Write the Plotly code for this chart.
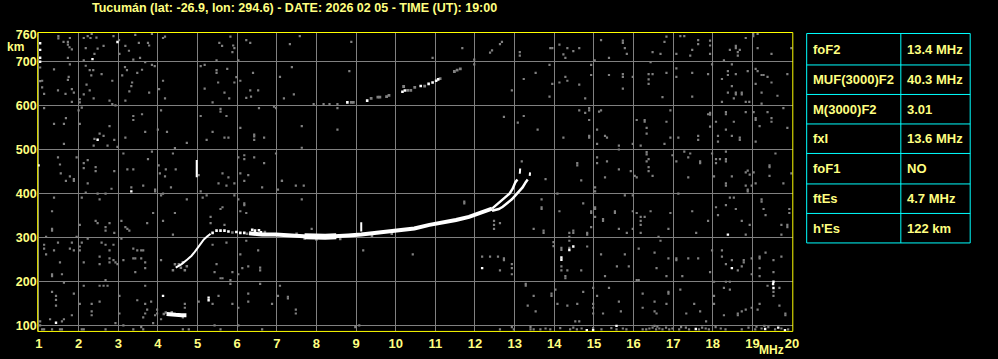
import plotly.graph_objects as go

# ---------------- data ----------------
TITLE = "Tucumán (lat: -26.9, lon: 294.6) - DATE: 2026 02 05 - TIME (UT): 19:00"
FREQ_TICKS = list(range(1, 21))
HEIGHT_TICKS = [100, 200, 300, 400, 500, 600, 700, 760]
HEIGHT_GRID = [100, 200, 300, 400, 500, 600, 700]

PARAM_NAMES = ["foF2", "MUF(3000)F2", "M(3000)F2", "fxI", "foF1", "ftEs", "h'Es"]
PARAM_VALUES = ["13.4 MHz", "40.3 MHz", "3.01", "13.6 MHz", "NO", "4.7 MHz", "122 km"]

# F2 trace (O and X merged), thick part: frequency MHz, virtual height km
F_FREQ = [6.30, 6.63, 6.97, 7.30, 7.63, 7.88, 8.22, 8.47, 8.80, 9.13, 9.47, 9.80, 10.13, 10.47, 10.85, 11.18, 11.52, 11.85, 12.18, 12.43]
F_HEIGHT = [310, 307, 307, 305, 304, 302, 302, 304, 305, 307, 310, 314, 317, 321, 329, 334, 340, 347, 357, 366]
F_CORE_FREQ = [7.70, 7.88, 8.22, 8.50]
F_CORE_HEIGHT = [303, 302, 302, 303]
RISE_FREQ = [4.45, 4.60, 4.75, 4.85, 4.93, 5.00, 5.08, 5.16, 5.25, 5.33]
RISE_HEIGHT = [232, 240, 251, 259, 268, 276, 287, 296, 303, 309]
O_FREQ = [12.43, 12.52, 12.60, 12.70, 12.78, 12.87, 12.95, 13.02, 13.07]
O_HEIGHT = [366, 373, 381, 388, 394, 400, 411, 426, 432]
O_TOP_FREQ = [13.13, 13.14]
O_TOP_HEIGHT = [445, 457]
X_FREQ = [12.43, 12.60, 12.70, 12.82, 12.93, 13.02, 13.10, 13.20, 13.28, 13.33]
X_HEIGHT = [361, 365, 370, 378, 387, 396, 403, 414, 426, 432]
X_TOP_FREQ = [13.38, 13.39]
X_TOP_HEIGHT = [440, 448]
ES_FREQ = [4.22, 4.30, 4.45, 4.60, 4.72]
ES_HEIGHT = [127, 127, 125, 124, 124]
STREAK1_FREQ = [4.98, 4.98]
STREAK1_HEIGHT = [437, 476]
STREAK2_FREQ = [9.13, 9.13]
STREAK2_HEIGHT = [314, 335]

F_DOTS = [(5.38, 311), (5.48, 316), (5.58, 316), (5.68, 316), (5.78, 314), (5.98, 313), (6.08, 311),
          (6.18, 311), (6.38, 318), (6.45, 316), (6.55, 317), (6.60, 312)]
F_FUZZ = [(4.38, 226), (4.43, 240), (4.53, 240), (4.63, 244), (4.68, 226), (4.73, 235), (4.58, 232),
          (5.88, 312), (6.25, 309), (6.70, 313), (7.50, 309), (7.70, 298), (8.00, 296), (8.60, 297),
          (9.40, 303), (9.90, 309), (4.15, 127), (4.35, 131), (4.20, 130)]
F2_ECHO_WHITE = [(8.78, 607), (9.28, 611), (10.17, 631), (10.23, 634), (10.63, 644), (10.83, 649),
                 (10.93, 652), (11.02, 656), (11.07, 659)]
F2_ECHO_GRAY = [(8.88, 607), (8.93, 607), (9.38, 616), (9.55, 619), (9.60, 619), (9.77, 620), (9.83, 623),
                (10.20, 643), (10.30, 634), (10.38, 634), (10.48, 641), (10.73, 644), (11.12, 661),
                (11.48, 677), (11.55, 680), (11.63, 683)]

WHITE_DOTS = [(1.03, 741), (1.03, 726), (1.03, 708), (1.03, 699), (0.99, 464), (2.98, 744), (2.35, 705),
              (2.48, 522), (3.33, 405), (4.13, 168), (5.28, 164), (5.28, 158), (1.43, 107), (14.18, 255),
              (14.18, 250), (14.38, 272), (14.48, 280), (12.18, 231), (18.38, 307), (18.48, 231),
              (19.53, 200), (19.53, 186), (19.52, 195), (14.82, 90), (14.98, 90), (15.57, 100),
              (17.57, 93), (19.32, 93), (19.65, 96), (19.82, 90)]

NOISE = [
    (1.49, 757), (1.49, 752), (1.78, 753), (1.62, 744), (1.73, 744), (1.73, 738), (1.77, 732), (1.83, 727),
    (2.13, 753), (2.23, 757), (2.33, 762), (2.30, 753), (2.45, 754), (2.18, 730), (2.48, 729), (2.40, 717),
    (2.63, 735), (2.88, 757), (3.02, 748), (3.18, 735), (3.27, 724), (3.43, 760), (3.52, 742), (3.75, 742),
    (3.78, 736), (3.85, 762), (4.18, 756), (4.13, 753), (1.73, 708), (2.13, 702), (3.03, 717), (3.38, 704),
    (3.55, 708), (3.68, 698), (1.03, 686), (1.38, 682), (1.78, 693), (2.18, 690), (2.28, 680), (2.37, 680),
    (2.32, 668), (1.75, 665), (1.73, 658), (2.58, 671), (2.85, 656), (3.17, 687), (3.22, 680), (3.10, 668),
    (3.48, 674), (3.60, 681), (3.85, 692), (3.92, 689), (1.03, 655), (1.08, 656), (1.08, 641), (1.13, 626),
    (1.48, 634), (1.67, 626), (1.83, 637), (1.88, 629), (1.83, 608), (2.03, 614), (2.03, 607), (2.13, 625),
    (2.20, 647), (2.28, 634), (2.38, 616), (2.78, 611), (2.85, 603), (2.93, 600), (3.18, 611), (3.28, 632),
    (3.35, 652), (3.33, 644), (3.78, 629), (4.03, 637), (4.13, 656), (4.18, 616), (1.13, 594), (2.00, 589),
    (2.08, 595), (2.03, 558), (1.68, 571), (1.38, 558), (1.63, 558), (2.78, 553), (3.38, 576), (3.38, 567),
    (3.60, 580), (3.68, 540), (4.00, 545), (4.08, 589), (4.23, 540), (2.53, 536), (2.63, 531), (2.40, 524),
    (2.38, 509), (2.73, 509), (2.90, 522), (2.98, 506), (3.18, 527), (1.63, 513), (1.48, 482), (1.53, 466),
    (1.55, 446), (1.95, 482), (2.13, 469), (2.23, 476), (2.43, 460), (2.43, 451), (2.13, 458), (1.78, 439),
    (1.88, 433), (2.90, 451), (3.13, 491), (3.23, 455), (3.38, 455), (3.75, 478), (3.85, 495), (4.02, 464),
    (4.05, 446), (4.20, 455), (4.18, 439), (4.43, 503), (4.38, 491), (4.45, 455), (4.73, 515), (5.03, 442),
    (5.08, 689), (5.18, 692), (5.48, 702), (5.48, 680), (5.48, 674), (5.55, 742), (5.62, 735), (5.75, 683),
    (5.83, 756), (5.90, 736), (5.93, 730), (5.88, 721), (6.03, 702), (5.98, 664), (5.93, 652), (6.08, 656),
    (6.23, 748), (6.33, 742), (6.40, 674), (5.52, 652), (5.18, 638), (5.68, 629), (5.80, 616), (5.38, 607),
    (6.33, 634), (6.23, 617), (6.53, 634), (6.35, 620), (5.58, 592), (5.58, 586), (5.73, 576), (5.08, 576),
    (5.38, 540), (5.23, 522), (5.68, 527), (5.78, 527), (6.08, 549), (6.43, 534), (6.43, 530), (6.43, 522),
    (6.68, 527), (6.55, 594), (6.93, 597), (6.98, 594), (6.03, 482), (6.18, 487), (6.18, 478), (6.43, 482),
    (6.68, 469), (6.98, 491), (6.08, 446), (6.28, 442), (5.63, 446), (5.78, 437), (7.08, 665), (7.33, 739),
    (7.38, 687), (7.58, 757), (7.43, 625), (7.18, 616), (7.63, 553), (7.63, 504), (8.53, 545), (8.83, 678),
    (8.88, 744), (7.93, 603), (8.18, 603), (8.33, 603), (8.53, 603), (8.53, 594), (7.13, 429),
    (10.93, 708), (11.68, 730), (11.98, 704), (11.98, 693), (12.38, 720), (12.43, 725), (12.63, 739),
    (12.68, 744), (13.13, 721), (13.13, 713), (12.93, 634), (12.73, 574), (13.08, 561), (13.23, 576),
    (13.58, 545), (13.23, 660), (13.53, 674), (13.90, 730), (13.95, 730), (13.88, 692), (13.95, 649),
    (13.88, 620), (14.13, 738), (14.13, 652), (14.23, 716), (14.28, 708), (14.33, 730), (14.48, 723),
    (14.63, 730), (14.28, 665), (14.33, 656), (14.63, 647), (14.78, 616), (14.93, 692), (14.93, 669),
    (15.02, 702), (15.18, 748), (15.38, 708), (15.38, 669), (15.73, 747), (15.73, 742), (15.78, 730),
    (15.83, 717), (15.73, 671), (15.73, 665), (15.73, 638), (15.98, 665), (16.38, 659), (16.38, 649),
    (16.38, 671), (16.48, 671), (16.43, 698), (16.48, 721), (16.68, 717), (16.78, 744), (16.83, 756),
    (16.83, 674), (16.73, 619), (17.08, 717), (17.18, 757), (17.28, 757), (17.43, 713), (17.48, 726),
    (17.63, 748), (17.63, 739), (17.93, 747), (17.93, 736), (17.93, 717), (17.98, 693), (17.08, 684),
    (17.08, 665), (17.48, 674), (17.88, 671), (17.48, 620), (18.28, 702), (18.43, 726), (18.58, 735),
    (18.58, 730), (18.63, 721), (18.63, 713), (18.68, 726), (18.83, 753), (19.02, 762), (19.02, 757),
    (19.13, 762), (19.13, 730), (19.48, 717), (19.98, 730), (18.48, 693), (18.23, 660), (18.38, 678),
    (18.38, 669), (18.58, 671), (18.48, 644), (18.38, 629), (18.58, 629), (18.58, 625), (18.73, 629),
    (18.73, 625), (18.53, 616), (18.23, 608), (18.83, 608), (18.92, 608), (18.88, 678), (19.08, 683),
    (19.13, 678), (19.08, 649), (19.23, 669), (19.28, 669), (19.38, 665), (19.48, 652), (19.23, 629),
    (19.63, 622), (19.88, 671), (19.23, 604),
    (14.63, 589), (14.78, 583), (14.88, 594), (14.88, 589), (14.88, 567), (15.13, 586), (15.18, 589),
    (15.08, 545), (15.28, 531), (15.33, 527), (15.08, 513), (14.23, 527), (14.88, 531), (14.88, 527),
    (15.63, 509), (15.63, 500), (16.08, 567), (16.28, 567), (16.28, 563), (16.33, 549), (16.33, 536),
    (16.18, 509), (15.98, 513), (16.83, 563), (16.93, 589), (16.93, 527), (16.78, 513), (17.13, 527),
    (17.63, 531), (17.63, 522), (17.93, 583), (17.93, 579), (17.88, 580), (17.93, 552), (18.08, 563),
    (18.13, 531), (18.13, 518), (18.33, 585), (18.33, 580), (18.33, 545), (18.53, 563), (18.48, 531),
    (18.68, 527), (18.68, 522), (18.83, 585), (19.03, 585), (19.08, 571), (19.08, 567), (19.18, 553),
    (19.08, 518), (19.38, 585), (19.48, 571), (19.48, 563), (19.78, 594), (19.88, 549), (16.33, 494),
    (16.33, 489), (16.38, 478), (16.33, 473), (16.38, 460), (16.38, 451), (16.48, 440), (16.03, 440),
    (16.08, 437), (15.93, 451), (15.63, 455), (15.28, 437), (15.33, 473), (15.08, 482), (15.08, 469),
    (14.58, 469), (14.58, 464), (14.68, 430), (13.18, 473), (13.78, 433), (16.98, 487), (17.08, 473),
    (17.28, 495), (17.43, 491), (17.38, 482), (17.68, 473), (17.68, 469), (17.98, 491), (18.08, 478),
    (18.18, 478), (18.08, 469), (18.33, 478), (18.33, 473), (18.33, 495), (18.03, 439), (17.38, 437),
    (18.48, 439), (18.83, 448), (18.88, 452), (18.93, 443), (19.03, 448), (19.43, 464), (19.43, 460),
    (19.43, 440), (19.58, 491), (19.98, 446),
    (1.68, 429), (1.88, 429), (2.23, 423), (2.83, 411), (3.33, 414), (3.63, 418), (3.93, 409), (3.93, 405),
    (4.33, 414), (5.53, 423), (5.73, 418), (5.93, 423), (6.18, 429), (6.63, 414), (7.03, 409), (7.48, 418),
    (7.68, 418), (7.13, 429), (1.38, 391), (2.08, 391), (2.18, 402), (2.48, 400), (2.68, 400), (2.53, 387),
    (4.13, 400), (4.08, 396), (5.08, 405), (5.13, 391), (5.23, 396), (5.93, 396), (6.03, 387), (6.18, 378),
    (6.18, 374), (6.08, 360), (6.23, 356), (1.33, 360), (2.43, 338), (2.48, 333), (2.03, 329), (1.33, 320),
    (1.33, 316), (2.68, 324), (2.68, 316), (2.78, 333), (2.90, 311), (3.08, 338), (3.18, 324), (3.23, 320),
    (3.28, 316), (3.73, 333), (3.88, 356), (4.13, 338), (4.43, 356), (4.73, 387), (5.33, 347), (5.33, 333),
    (5.68, 329), (5.58, 365), (5.63, 369), (7.63, 387), (7.88, 320), (1.18, 302), (1.95, 302), (2.23, 298),
    (3.08, 298), (4.38, 307), (1.13, 284), (1.13, 275), (1.38, 271), (1.48, 289), (1.83, 289), (1.78, 275),
    (1.88, 271), (2.03, 280), (2.03, 271), (2.08, 289), (2.58, 289), (2.68, 284), (2.88, 284), (2.78, 271),
    (3.38, 275), (3.48, 271), (3.58, 271), (3.63, 271), (3.38, 253), (3.43, 253), (3.58, 253), (3.68, 244),
    (3.68, 231), (4.08, 249), (5.38, 284), (5.73, 289), (6.08, 262), (6.23, 293), (6.53, 271), (5.48, 240),
    (5.58, 208), (5.63, 208), (5.83, 204), (5.83, 195), (6.58, 232), (6.58, 226), (6.28, 235), (6.13, 231),
    (6.03, 217), (5.88, 222), (5.43, 222), (6.58, 195), (9.18, 271), (10.43, 262), (1.18, 262), (1.33, 217),
    (1.33, 213), (1.58, 217), (1.53, 244), (2.13, 244), (2.53, 257), (2.53, 240), (2.78, 253), (2.78, 244),
    (2.88, 249), (2.98, 240), (3.13, 249), (3.43, 222), (2.68, 204), (2.93, 244), (1.63, 198), (2.13, 191),
    (2.53, 191), (2.63, 191), (2.73, 191), (1.88, 173), (1.33, 177), (1.43, 168), (1.43, 159), (1.43, 146),
    (2.03, 150), (2.33, 150), (2.33, 133), (2.33, 124), (2.53, 155), (3.03, 168), (3.48, 158), (3.68, 191),
    (3.68, 150), (3.68, 128), (3.73, 137), (3.83, 155), (3.98, 128), (3.98, 137), (4.68, 150), (4.68, 141),
    (4.63, 119), (5.03, 155), (5.38, 150), (5.88, 150), (6.03, 141), (6.28, 173), (6.28, 155), (6.88, 150),
    (7.03, 168), (7.08, 191), (7.28, 166), (7.28, 162), (7.48, 137), (7.48, 128), (5.53, 168), (1.03, 110),
    (1.03, 101), (1.28, 115), (1.58, 110), (1.63, 115), (1.83, 124), (2.93, 106), (3.03, 128), (3.13, 101),
    (3.63, 119), (3.88, 106), (3.93, 124), (4.08, 115), (1.08, 92), (1.13, 92), (1.33, 92), (1.53, 92),
    (1.58, 92), (2.08, 92), (2.13, 92), (2.68, 92), (3.38, 92), (3.58, 97), (3.63, 92), (4.63, 92),
    (4.78, 92), (5.43, 101), (5.58, 92), (6.03, 101), (6.63, 92), (9.08, 101), (8.98, 97),
    (11.73, 382), (11.73, 378), (12.48, 338), (12.48, 329), (12.48, 320), (12.63, 333), (13.68, 387),
    (13.68, 369), (13.68, 365), (13.48, 320), (13.73, 316), (13.73, 311), (14.08, 400), (14.13, 360),
    (14.73, 378), (14.93, 360), (14.93, 356), (15.03, 369), (15.03, 365), (15.03, 347), (15.23, 342),
    (15.23, 338), (14.93, 324), (14.83, 311), (14.83, 307), (14.48, 316), (14.48, 311), (14.38, 311),
    (14.38, 302), (14.38, 293), (15.03, 414), (15.03, 405), (15.53, 360), (15.53, 356), (15.78, 396),
    (15.98, 396), (15.98, 360), (15.63, 320), (15.83, 311), (15.98, 320), (16.18, 347), (16.18, 338),
    (16.18, 329), (16.18, 311), (16.08, 356), (16.28, 347), (16.43, 360), (16.63, 302), (16.68, 293),
    (16.88, 320), (16.93, 356), (17.13, 400), (17.48, 360), (17.58, 311), (17.88, 338), (18.08, 369),
    (18.13, 351), (18.33, 418), (18.33, 374), (18.43, 391), (18.53, 391), (18.58, 365), (18.73, 338),
    (18.88, 409), (18.88, 405), (18.98, 418), (18.93, 329), (18.83, 307), (19.23, 387), (19.23, 382),
    (19.28, 365), (19.33, 351), (19.73, 329), (19.88, 329), (19.88, 324), (19.73, 307), (19.93, 365),
    (19.93, 356), (19.78, 423), (18.83, 418), (19.08, 423), (18.33, 423),
    (13.98, 290), (13.98, 281), (14.18, 277), (14.18, 272), (14.38, 277), (14.83, 280), (15.18, 262),
    (15.78, 262), (16.13, 275), (16.53, 266), (16.88, 253), (17.08, 253), (17.08, 249), (17.38, 253),
    (17.63, 253), (17.98, 271), (18.23, 271), (18.23, 257), (18.48, 249), (18.33, 240), (18.78, 249),
    (18.78, 244), (18.98, 253), (19.18, 257), (19.18, 253), (19.18, 231), (19.33, 266), (19.53, 249),
    (19.73, 257), (19.53, 222), (19.53, 177), (19.53, 168), (19.68, 186), (12.18, 257), (12.38, 257),
    (12.58, 257), (12.73, 253), (12.73, 249), (12.63, 226), (12.93, 240), (12.93, 231), (14.18, 235),
    (14.18, 226), (14.33, 226), (14.68, 226), (12.93, 217), (14.28, 213), (14.28, 208), (15.28, 213),
    (15.58, 235), (15.88, 235), (16.08, 204), (16.13, 204), (16.58, 231), (16.83, 213), (17.23, 213),
    (17.93, 222), (18.03, 200), (18.33, 200), (18.43, 200), (18.63, 226), (18.73, 235), (18.98, 217),
    (19.18, 213), (13.28, 195), (13.28, 191), (13.48, 168), (13.93, 173), (13.93, 168), (14.03, 182),
    (14.73, 177), (14.98, 186), (15.38, 186), (13.33, 146), (13.53, 133), (14.08, 150), (14.33, 146),
    (14.58, 150), (14.98, 150), (14.98, 141), (14.98, 128), (15.23, 128), (15.08, 168), (15.63, 155),
    (15.68, 133), (16.23, 173), (16.23, 141), (16.53, 133), (16.58, 128), (16.88, 177), (16.88, 173),
    (16.53, 155), (16.83, 150), (17.18, 182), (17.33, 128), (17.53, 150), (17.68, 133), (17.83, 110),
    (18.03, 168), (18.03, 150), (18.28, 186), (18.43, 182), (18.28, 124), (18.63, 128), (18.63, 124),
    (18.73, 133), (18.83, 137), (18.98, 141), (19.13, 137), (19.18, 150), (19.38, 191), (19.68, 146),
    (19.83, 128), (19.83, 124), (12.63, 92), (12.93, 97), (12.98, 92), (14.53, 110), (14.63, 110),
    (13.40, 97), (13.40, 92), (13.48, 92), (13.65, 92), (13.78, 94), (13.90, 92), (14.15, 95), (14.40, 92),
    (14.48, 96), (14.57, 92), (14.69, 94), (14.98, 95), (15.19, 92), (15.44, 95), (15.57, 92), (15.73, 94),
    (15.82, 92), (16.23, 92), (16.32, 92), (16.40, 94), (16.48, 96), (16.57, 92), (16.65, 94), (16.73, 92),
    (16.82, 96), (16.90, 92), (16.98, 94), (17.15, 92), (17.32, 96), (17.40, 92), (17.65, 92), (17.73, 96),
    (17.82, 94), (17.90, 92), (18.07, 97), (18.32, 92), (18.73, 92), (18.90, 96), (19.07, 92), (19.23, 94),
    (19.40, 97), (19.57, 92), (19.73, 94), (19.90, 92), (16.53, 100), (16.60, 98), (17.20, 97), (18.20, 94),
    (19.10, 98), (19.30, 100),
]

# ---------------- styling ----------------
W, H = 998, 359
BG = "#000000"
GRAY = "#808080"
WHITE = "#FFFFFF"
TXT = "#FFFF80"
BORDER = "#FFFF00"
CYAN = "#00FFFF"
FONT = "Liberation Sans"

def px(x):
    return x / W

def py(y):
    return 1 - y / H

fig = go.Figure()

def dots(pairs, color, size):
    fig.add_trace(go.Scatter(
        x=[p[0] for p in pairs], y=[p[1] for p in pairs], mode="markers",
        marker=dict(symbol="square", size=size, color=color, line=dict(width=0)),
        hoverinfo="skip", showlegend=False))

def line(xs, ys, width, color=WHITE):
    fig.add_trace(go.Scatter(x=xs, y=ys, mode="lines", line=dict(color=color, width=width),
                             hoverinfo="skip", showlegend=False))

dots(NOISE, GRAY, 2.2)
dots(F_FUZZ, GRAY, 2.5)
dots(F2_ECHO_GRAY, GRAY, 2.8)
line(F_FREQ, F_HEIGHT, 4)
line(F_CORE_FREQ, F_CORE_HEIGHT, 6)
line(RISE_FREQ, RISE_HEIGHT, 2)
line(O_FREQ, O_HEIGHT, 2.5)
line(O_TOP_FREQ, O_TOP_HEIGHT, 2)
line(X_FREQ, X_HEIGHT, 2.5)
line(X_TOP_FREQ, X_TOP_HEIGHT, 2)
line(ES_FREQ, ES_HEIGHT, 4)
line(STREAK1_FREQ, STREAK1_HEIGHT, 2)
line(STREAK2_FREQ, STREAK2_HEIGHT, 2)
dots(F_DOTS, WHITE, 2.6)
dots(F2_ECHO_WHITE, WHITE, 2.6)
dots(WHITE_DOTS, WHITE, 2.4)

xtickfont = dict(family=FONT, size=13, color=TXT, weight="bold")
ytickfont = dict(family=FONT, size=12.5, color=TXT, weight="bold")

fig.update_layout(
    width=W, height=H, autosize=False,
    margin=dict(l=0, r=0, t=0, b=0),
    paper_bgcolor=BG, plot_bgcolor=BG,
    showlegend=False,
    xaxis=dict(domain=[px(36), px(798)], range=[0.9675, 20.0175],
               tickmode="array", tickvals=FREQ_TICKS, ticktext=[str(v) for v in FREQ_TICKS],
               showgrid=True, gridcolor=GRAY, gridwidth=1, zeroline=False,
               ticks="", showline=False, tickfont=xtickfont, ticklabelstandoff=3,
               fixedrange=True),
    yaxis=dict(domain=[1 - 333 / H, 1 - 29 / H], range=[87.3, 765.4],
               tickmode="array", tickvals=HEIGHT_TICKS, ticktext=[str(v) for v in HEIGHT_TICKS],
               showgrid=False, zeroline=False, ticks="", showline=False, tickfont=ytickfont,
               minor=dict(tickmode="array", tickvals=HEIGHT_GRID, showgrid=True,
                          gridcolor=GRAY, gridwidth=1, ticks=""),
               fixedrange=True),
)

# yellow plot frame
fig.add_shape(type="rect", xref="x domain", yref="y domain", x0=0, x1=1, y0=0, y1=1,
              line=dict(color=BORDER, width=1), layer="above")

# title and unit labels
fig.add_annotation(text=TITLE, xref="paper", yref="paper", x=px(295), y=py(4.5),
                   xanchor="center", yanchor="middle", showarrow=False,
                   font=dict(family=FONT, size=12.5, color=TXT, weight="bold"))
fig.add_annotation(text="km", xref="paper", yref="paper", x=px(13.5), y=py(43.5),
                   xanchor="center", yanchor="middle", showarrow=False,
                   font=dict(family=FONT, size=12, color=TXT, weight="bold"))
fig.add_annotation(text="MHz", xref="paper", yref="paper", x=px(776), y=py(352),
                   xanchor="center", yanchor="middle", showarrow=False,
                   font=dict(family=FONT, size=12, color=TXT, weight="bold"))

# parameter table
row_edges = [30, 62, 92, 122, 152, 183, 213, 243]
tx0, tx1, tdiv = 812, 977, 907
fig.add_shape(type="rect", xref="paper", yref="paper", x0=px(tx0), x1=px(tx1),
              y0=py(row_edges[-1]), y1=py(row_edges[0]), line=dict(color=CYAN, width=1))
fig.add_shape(type="line", xref="paper", yref="paper", x0=px(tdiv), x1=px(tdiv),
              y0=py(row_edges[-1]), y1=py(row_edges[0]), line=dict(color=CYAN, width=1))
for e in row_edges[1:-1]:
    fig.add_shape(type="line", xref="paper", yref="paper", x0=px(tx0), x1=px(tx1),
                  y0=py(e), y1=py(e), line=dict(color=CYAN, width=1))
for i, (name, val) in enumerate(zip(PARAM_NAMES, PARAM_VALUES)):
    yc = (row_edges[i] + row_edges[i + 1]) / 2
    fig.add_annotation(text=name, xref="paper", yref="paper", x=px(816), y=py(yc),
                       xanchor="left", yanchor="middle", showarrow=False,
                       font=dict(family=FONT, size=13, color=TXT, weight="bold"))
    fig.add_annotation(text=val, xref="paper", yref="paper", x=px(911), y=py(yc),
                       xanchor="left", yanchor="middle", showarrow=False,
                       font=dict(family=FONT, size=13, color=TXT, weight="bold"))

fig.write_html("out.html")
